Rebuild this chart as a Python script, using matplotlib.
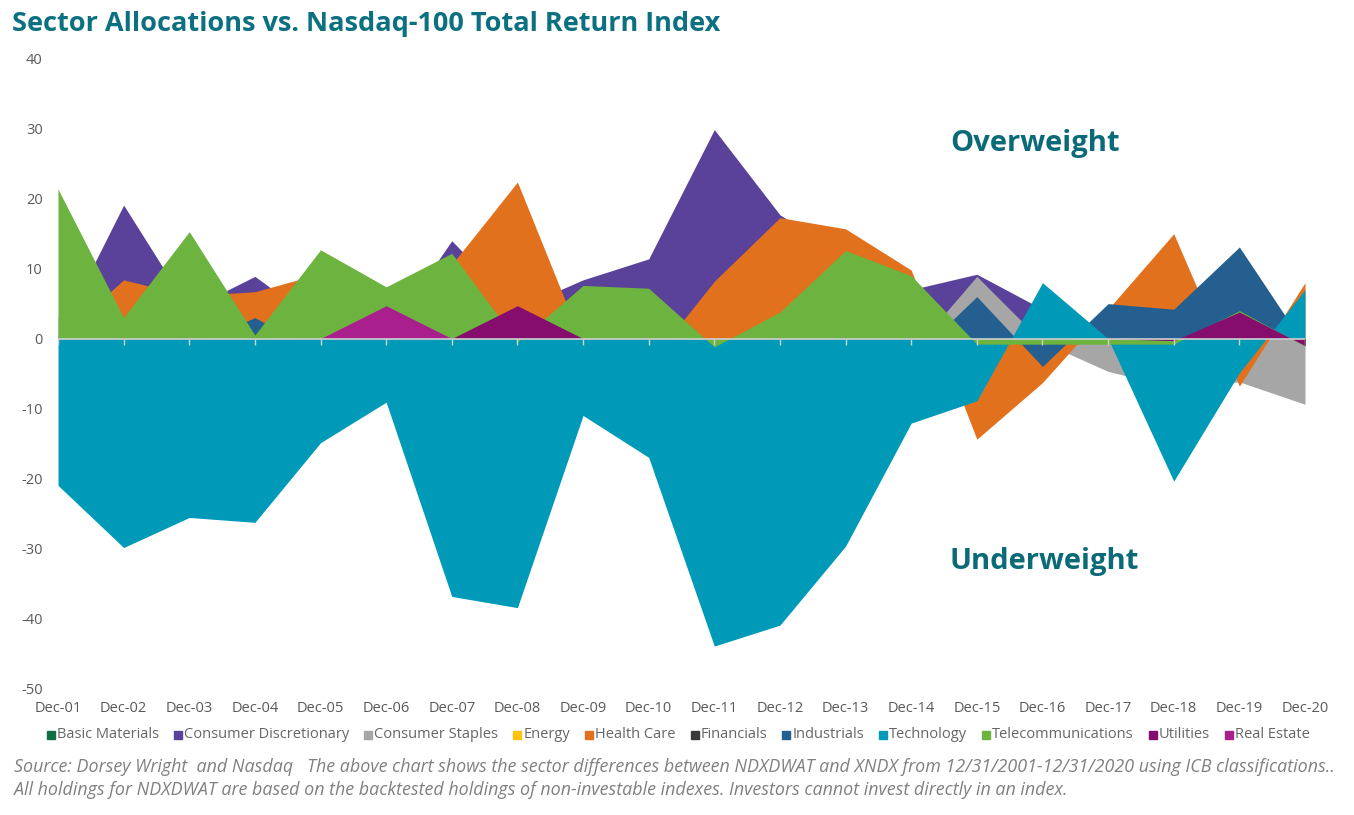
import matplotlib
matplotlib.use("Agg")
import matplotlib.pyplot as plt
from matplotlib.patches import Rectangle
import numpy as np

plt.rcParams["axes.unicode_minus"] = False

dates = ["Dec-01", "Dec-02", "Dec-03", "Dec-04", "Dec-05", "Dec-06", "Dec-07",
         "Dec-08", "Dec-09", "Dec-10", "Dec-11", "Dec-12", "Dec-13", "Dec-14",
         "Dec-15", "Dec-16", "Dec-17", "Dec-18", "Dec-19", "Dec-20"]

basic_materials = [0.0] * 20
consumer_discretionary = [0.4, 19.1, 4.2, 8.9, 2.0, 0.4, 14.0, 4.3, 8.4, 11.4,
                          29.9, 17.7, 12.0, 7.0, 9.2, 4.2, 1.0, 1.0, 2.0, 0.0]
consumer_staples = [3.2, 0.0, 0.0, 0.0, 0.0, 0.0, 0.0, 0.0, 0.0, 0.0,
                    0.0, 0.0, 0.0, -2.0, 8.9, -0.5, -4.7, -7.0, -6.2, -9.4]
energy = [0.0] * 7 + [-0.6] + [0.0] * 12
health_care = [0.0, 8.4, 6.1, 6.7, 9.3, 5.0, 10.6, 22.4, -0.9, -3.6,
               8.2, 17.3, 15.7, 9.8, -14.4, -6.3, 4.2, 15.0, -6.8, 8.0]
financials = [0.0] * 20
industrials = [0.0, 0.0, -1.0, 3.0, -2.0, 0.0, 0.0, 0.0, 0.0, 0.0,
               0.0, 0.0, 0.0, -3.0, 6.0, -4.0, 5.0, 4.2, 13.1, -1.0]
technology = [-21.0, -29.9, -25.6, -26.3, -14.9, -9.1, -36.9, -38.5, -11.0, -17.0,
              -44.0, -41.0, -29.7, -12.1, -8.9, 8.0, 0.0, -20.4, -4.9, 7.0]
telecommunications = [21.4, 3.0, 15.3, 0.5, 12.7, 7.4, 12.2, -0.5, 7.6, 7.2,
                      -1.2, 3.8, 12.6, 9.0, -0.8, -0.8, -0.8, -0.8, 4.0, -1.1]
utilities = [0.0] * 7 + [4.7] + [0.0] * 9 + [-0.3, 3.8, -1.0]
real_estate = [0.0] * 5 + [4.7] + [0.0] * 14

series = [
    ("Basic Materials", basic_materials, "#0c7040"),
    ("Consumer Discretionary", consumer_discretionary, "#5a4199"),
    ("Consumer Staples", consumer_staples, "#a6a6a6"),
    ("Energy", energy, "#ffc20e"),
    ("Health Care", health_care, "#e2711d"),
    ("Financials", financials, "#3a3a3a"),
    ("Industrials", industrials, "#255f90"),
    ("Technology", technology, "#009ab9"),
    ("Telecommunications", telecommunications, "#6db33f"),
    ("Utilities", utilities, "#850d6e"),
    ("Real Estate", real_estate, "#a91f8d"),
]

W, H = 1354, 815
fig = plt.figure(figsize=(W / 100, H / 100), dpi=100)
ax = fig.add_axes([58 / W, 1 - 688 / H, (1305 - 58) / W, (688 - 59) / H])

x = np.arange(len(dates))
for name, vals, col in series:
    ax.fill_between(x, 0, vals, color=col, linewidth=0, zorder=2)

ax.axhline(0, color="#d0d0d0", linewidth=1.2, zorder=5)
for xi in x:
    ax.plot([xi, xi], [0, -0.9], color="#d0d0d0", linewidth=1.0, zorder=5,
            solid_capstyle="butt")

ax.set_xlim(0, len(dates) - 1)
ax.set_ylim(-50, 40)
ax.set_yticks(range(-50, 41, 10))
ax.set_xticks(x)
ax.set_xticklabels(dates)
for s in ax.spines.values():
    s.set_visible(False)
ax.tick_params(axis="both", length=0, labelsize=10.5, labelcolor="#595959")
ax.tick_params(axis="x", pad=9)
ax.tick_params(axis="y", pad=11)
for lab in ax.get_xticklabels() + ax.get_yticklabels():
    lab.set_fontfamily("Open Sans")

teal = "#0b7080"
fig.text(12 / W, 1 - 24 / H, "Sector Allocations vs. Nasdaq-100 Total Return Index",
         fontsize=19.5, fontweight="bold", color=teal, family="Open Sans",
         va="center", ha="left")
fig.text(950 / W, 1 - 143 / H, "Overweight", fontsize=21, fontweight="bold",
         color="#0b6a78", family="Open Sans", va="center", ha="left")
fig.text(950 / W, 1 - 562 / H, "Underweight", fontsize=21, fontweight="bold",
         color="#0b6a78", family="Open Sans", va="center", ha="left")

# legend drawn as a row of squares and labels
fig.canvas.draw()
renderer = fig.canvas.get_renderer()
xpos = 47
ly = 735
for name, vals, col in series:
    fig.patches.append(Rectangle((xpos / W, 1 - (ly + 4) / H), 8 / W, 8 / H,
                                 transform=fig.transFigure, color=col, figure=fig))
    t = fig.text((xpos + 10) / W, 1 - ly / H, name, fontsize=10.5, color="#666666",
                 family="Open Sans", va="center", ha="left")
    bb = t.get_window_extent(renderer)
    xpos = xpos + 10 + bb.width + 15

fig.text(14 / W, 1 - 767 / H,
         "Source: Dorsey Wright  and Nasdaq   The above chart shows the sector differences between NDXDWAT and XNDX from 12/31/2001-12/31/2020 using ICB classifications..",
         fontsize=12.9, style="italic", color="#808080", family="Open Sans",
         va="center", ha="left")
fig.text(14 / W, 1 - 790 / H,
         "All holdings for NDXDWAT are based on the backtested holdings of non-investable indexes. Investors cannot invest directly in an index.",
         fontsize=12.9, style="italic", color="#808080", family="Open Sans",
         va="center", ha="left")

fig.savefig("out.png", dpi=100)
